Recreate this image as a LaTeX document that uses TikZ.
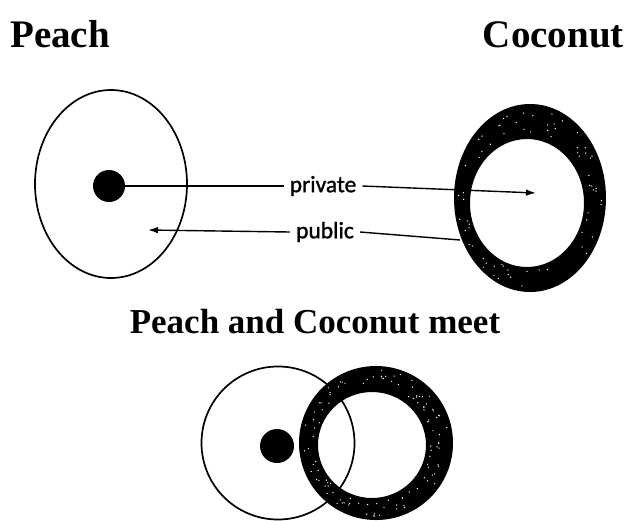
\documentclass[tikz,border=0pt]{standalone}
\usepackage{fontspec}
\setmainfont{Liberation Serif}
\newfontfamily\labelfont[FakeBold=1.2]{Carlito}
\usetikzlibrary{arrows.meta,shapes.geometric}
\begin{document}
\begin{tikzpicture}[x=1pt,y=-1pt,
  heading/.style={font=\bfseries\fontsize{39}{44}\selectfont, inner sep=0pt, anchor=base},
  subheading/.style={font=\bfseries\fontsize{35}{40}\selectfont, inner sep=0pt, anchor=base},
  tag/.style={font=\labelfont\fontsize{23.5}{26}\selectfont, inner xsep=6pt, inner ysep=0pt},
  skin/.style={ellipse, draw=black, line width=1.7pt, inner sep=0pt},
  stone/.style={circle, fill=black, inner sep=0pt},
  shell/.style={fill=black, even odd rule},
  speck/.style={fill=white},
  link/.style={draw=black, line width=1.4pt},
  arrowlink/.style={link, -{Latex[length=10pt,width=6.5pt]}}
]
\useasboundingbox (0,0) rectangle (628,520);
\pgfmathsetseed{4711}

% headings
\node[heading, anchor=base west] (tPeach) at (10,47) {Peach};
\node[heading, anchor=base east] (tCoconut) at (624,47) {Coconut};
\node[subheading] (tMeet) at (315,333) {Peach and Coconut meet};

% peach: thin skin around a hard stone
\node[skin, minimum width=152pt, minimum height=188pt] (peach) at (111,184) {};
\node[stone, minimum size=32pt] (kernel) at (109,186) {};

% coconut: thick hard shell around a soft centre
\fill[shell] (530,198) ellipse [x radius=76, y radius=94]
             (527,203) ellipse [x radius=57, y radius=64];
\foreach \i in {1,...,70} {
  \pgfmathsetmacro\ang{rnd*360}
  \pgfmathsetmacro\frac{0.15+0.7*rnd}
  \fill[speck] ({530-3*(1-\frac)+(57+19*\frac)*cos(\ang)},
                {198+5*(1-\frac)+(64+30*\frac)*sin(\ang)}) circle (0.7);
}
\coordinate (cocoCentre) at (536,193);
\coordinate (shellEdge) at (460,240);
\coordinate (peachInside) at (148,230);

% labels and arrows
\node[tag] (priv) at (323,186) {private};
\node[tag] (pub) at (325,232) {public};
\draw[link] (kernel.east) -- (priv.west);
\draw[arrowlink] (priv.east) -- (cocoCentre);
\draw[link] (shellEdge) -- (pub.east);
\draw[arrowlink] (pub.west) -- (peachInside);

% the two meet
\node[skin, minimum width=153pt, minimum height=153pt] (peachB) at (278,443) {};
\node[stone, minimum size=34pt] (kernelB) at (277,446) {};
\fill[shell] (376,443) ellipse [x radius=77, y radius=77]
             (372,445) ellipse [x radius=54, y radius=53];
\foreach \i in {1,...,110} {
  \pgfmathsetmacro\ang{rnd*360}
  \pgfmathsetmacro\frac{0.15+0.7*rnd}
  \fill[speck] ({376-4*(1-\frac)+(54+23*\frac)*cos(\ang)},
                {443+2*(1-\frac)+(53+24*\frac)*sin(\ang)}) circle (0.7);
}
\end{tikzpicture}
\end{document}
